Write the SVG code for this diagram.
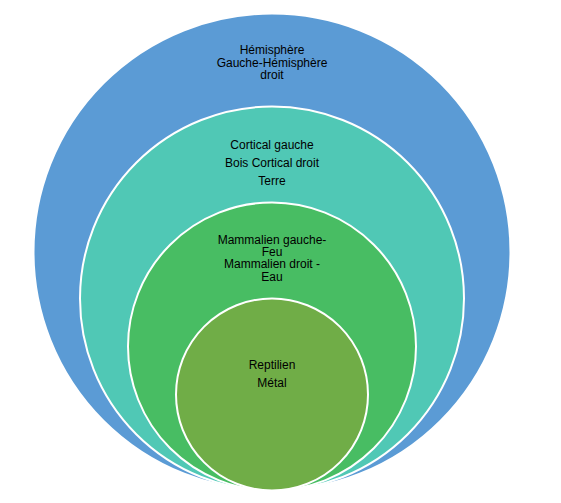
<svg xmlns="http://www.w3.org/2000/svg" width="561" height="503" viewBox="0 0 561 503">
<style>
.c{stroke:#fff;stroke-width:2}
.t{font-family:"Liberation Sans",Arial,sans-serif;font-size:12px;fill:#000;text-anchor:middle}
</style>
<rect width="561" height="503" fill="#fff"/>
<g id="hemisphere">
<circle class="c" cx="272" cy="252" r="238.5" fill="#5B9BD5"/>
<text class="t" x="272" y="54">Hémisphère</text>
<text class="t" x="272" y="66.5">Gauche-Hémisphère</text>
<text class="t" x="272" y="78.5">droit</text>
</g>
<g id="cortical">
<circle class="c" cx="272" cy="298.5" r="192" fill="#50C8B5"/>
<text class="t" x="272" y="148.5">Cortical gauche</text>
<text class="t" x="272" y="166.5">Bois Cortical droit</text>
<text class="t" x="272" y="184.5">Terre</text>
</g>
<g id="mammalien">
<circle class="c" cx="272" cy="346.5" r="144" fill="#48BD63"/>
<text class="t" x="272" y="244">Mammalien gauche-</text>
<text class="t" x="272" y="256">Feu</text>
<text class="t" x="272" y="267.5">Mammalien droit -</text>
<text class="t" x="272" y="280.5">Eau</text>
</g>
<g id="reptilien">
<circle class="c" cx="272" cy="394.5" r="96" fill="#70AD47"/>
<text class="t" x="272" y="368.5">Reptilien</text>
<text class="t" x="272" y="386.5">Métal</text>
</g>
<g id="connectors"/>
</svg>
